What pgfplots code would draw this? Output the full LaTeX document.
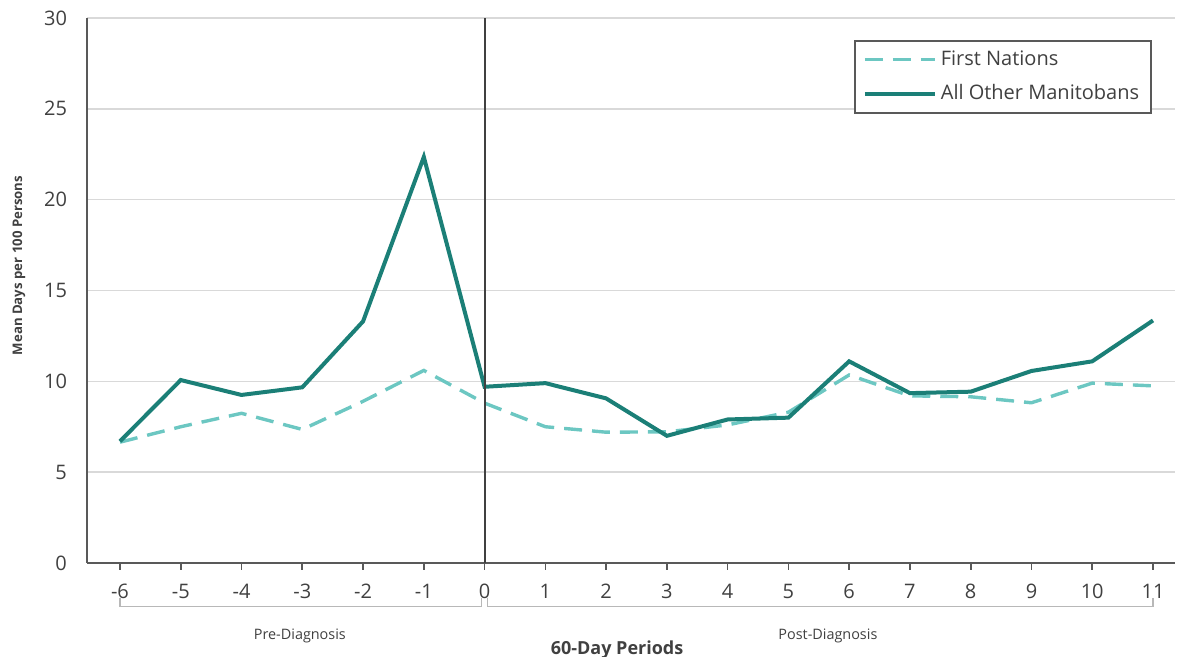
\documentclass[border=0pt]{standalone}
\usepackage{fontspec}
\setmainfont{Open Sans}
\usepackage{pgfplots}
\pgfplotsset{compat=1.18}
\definecolor{solidteal}{HTML}{1B7F77}
\definecolor{dashteal}{HTML}{6CC7C2}
\definecolor{gridgrey}{HTML}{D9D9D9}
\definecolor{axisgrey}{HTML}{595959}
\definecolor{txtgrey}{HTML}{404040}
\begin{document}
\begin{tikzpicture}[x=0.5pt,y=0.5pt]
\path[use as bounding box] (-87,-94) rectangle (1093,563);
\begin{axis}[
  at={(0,0)}, anchor=south west,
  scale only axis,
  width=544pt, height=272.5pt,
  xmin=-6.543, xmax=11.362,
  ymin=0, ymax=30,
  xtick={-6,...,11},
  ytick={0,5,...,30},
  ymajorgrids,
  grid style={gridgrey, line width=0.8pt},
  axis x line*=bottom,
  axis y line*=left,
  axis line style={axisgrey, line width=1pt, -},
  x tick style={axisgrey, line width=0.8pt},
  major tick length=3.5pt,
  xtick align=outside,
  y tick style={draw=none},
  tick label style={font=\fontsize{10}{12}\selectfont, text=txtgrey},
  /pgf/number format/assume math mode=true,
  xticklabel style={yshift=-3.5pt},
  yticklabel style={xshift=-6.5pt},
  ylabel={\bfseries Mean Days per 100 Persons},
  ylabel style={font=\fontsize{6.6}{8}\selectfont, text=txtgrey, xshift=12.5pt, yshift=2.5pt},
  clip=false,
  legend style={at={(0.979,0.96)}, anchor=north east, draw=axisgrey, line width=1pt,
    font=\fontsize{10}{12}\selectfont, text=txtgrey, inner xsep=4pt, inner ysep=3pt, row sep=4pt,
    nodes={inner xsep=2pt},
    legend cell align=left},
  legend image code/.code={\draw[#1] (0pt,0pt) -- (35pt,0pt);},
]
\addplot[dashteal, line width=1.7pt, dash pattern=on 9pt off 5pt] coordinates {
(-6,6.65) (-5,7.5) (-4,8.24) (-3,7.35) (-2,8.9) (-1,10.6) (0,8.8) (1,7.5) (2,7.2) (3,7.22)
(4,7.6) (5,8.3) (6,10.35) (7,9.2) (8,9.15) (9,8.82) (10,9.9) (11,9.75)};
\addlegendentry{First Nations}
\addplot[solidteal, line width=2pt] coordinates {
(-6,6.7) (-5,10.07) (-4,9.25) (-3,9.67) (-2,13.3) (-1,22.35) (0,9.7) (1,9.9) (2,9.06) (3,7.0)
(4,7.9) (5,8.0) (6,11.1) (7,9.35) (8,9.43) (9,10.57) (10,11.1) (11,13.35)};
\addlegendentry{All Other Manitobans}
\draw[txtgrey, line width=1pt] (axis cs:0,0) -- (axis cs:0,30);
\draw[gridgrey!85!black, line width=0.6pt] (axis cs:-6,-1.9) -- (axis cs:-6,-2.4) -- (axis cs:-0.05,-2.4) -- (axis cs:-0.05,-1.9);
\draw[gridgrey!85!black, line width=0.6pt] (axis cs:0.05,-1.9) -- (axis cs:0.05,-2.4) -- (axis cs:11,-2.4) -- (axis cs:11,-1.9);
\node[font=\fontsize{7.2}{9}\selectfont, text=txtgrey] at (axis cs:-3.04,-4.0) {Pre-Diagnosis};
\node[font=\fontsize{7.2}{9}\selectfont, text=txtgrey] at (axis cs:5.65,-4.0) {Post-Diagnosis};
\node[font=\bfseries\fontsize{9}{11}\selectfont, text=txtgrey] at (axis cs:2.18,-4.78) {60-Day Periods};
\end{axis}
\end{tikzpicture}
\end{document}
